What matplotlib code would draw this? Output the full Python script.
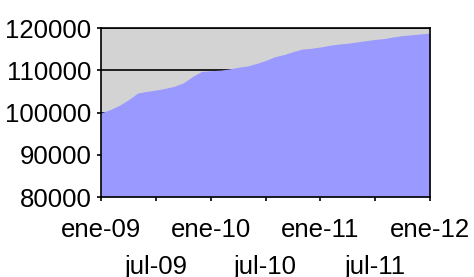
import numpy as np
import matplotlib
matplotlib.use("Agg")
import matplotlib.pyplot as plt
import matplotlib.ticker as mticker

plt.rcParams["font.family"] = ["Liberation Sans", "DejaVu Sans"]

# Monthly values, ene-09 .. ene-12
months = np.arange(37)
values = [99900, 100700, 101700, 103000, 104600, 105000, 105300, 105700,
          106200, 107000, 108500, 109700, 109900, 110000, 110300, 110700,
          111000, 111600, 112300, 113200, 113700, 114400, 115000, 115200,
          115500, 115900, 116200, 116400, 116700, 117000, 117300, 117500,
          117900, 118200, 118400, 118600, 118800]

major_pos = [0, 12, 24, 36]
major_labels = ["ene-09", "ene-10", "ene-11", "ene-12"]
minor_pos = [6, 18, 30]
minor_labels = ["jul-09", "jul-10", "jul-11"]
y_ticks = [80000, 90000, 100000, 110000, 120000]

fig = plt.figure(figsize=(4.74, 2.77), dpi=100)
ax = fig.add_axes([0.2131, 0.2888, 0.6941, 0.6101])
ax.set_facecolor("#D3D3D3")

ax.fill_between(months, 80000, values, color="#9999FF", linewidth=0, zorder=1)

ax.set_xlim(0, 36)
ax.set_ylim(80000, 120000)
ax.set_yticks(y_ticks)
ax.yaxis.set_major_formatter(mticker.FuncFormatter(lambda v, p: f"{int(v)}"))

ax.set_xticks(major_pos)
ax.set_xticklabels(major_labels)
ax.set_xticks(minor_pos, minor=True)
ax.set_xticklabels(minor_labels, minor=True)

ax.set_axisbelow(True)
ax.yaxis.grid(True, color="black", linewidth=1.2)

for s in ax.spines.values():
    s.set_linewidth(1.2)
    s.set_color("black")

ax.tick_params(axis="y", which="major", length=3, width=1.2, pad=4, labelsize=18.5)
ax.tick_params(axis="x", which="major", length=3, width=1.2, pad=12, labelsize=18.5)
ax.tick_params(axis="x", which="minor", length=3, width=1.2, pad=39, labelsize=18.5)

fig.savefig("out.png", dpi=100, facecolor="white")
